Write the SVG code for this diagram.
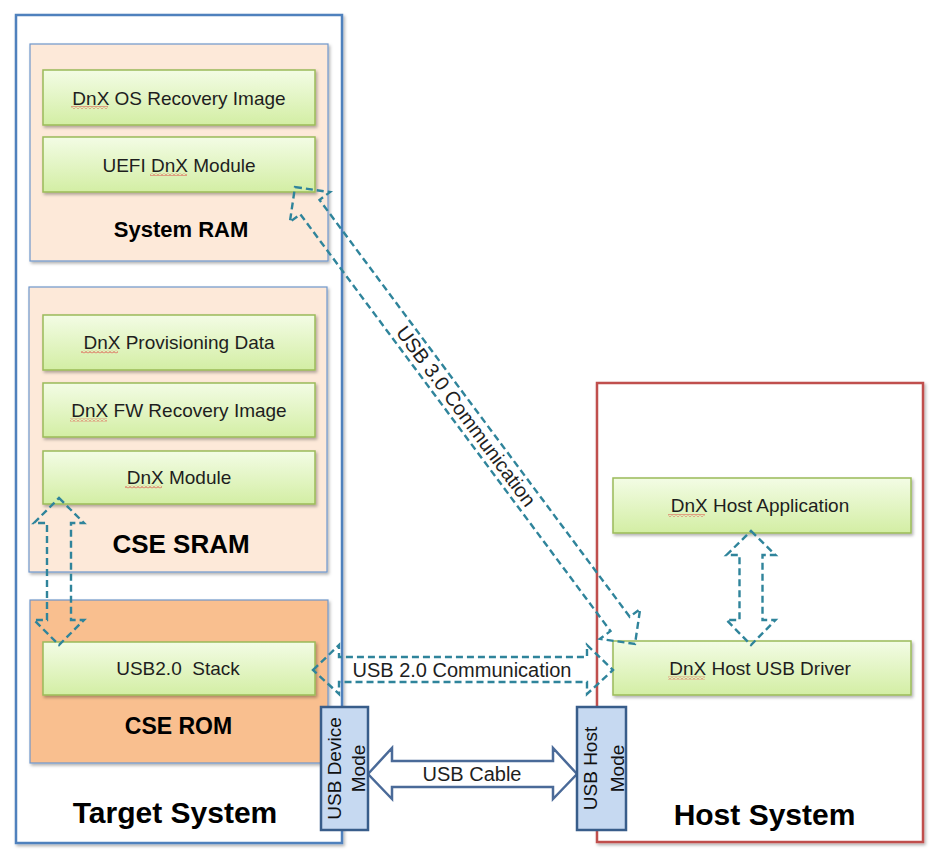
<svg xmlns="http://www.w3.org/2000/svg" width="932" height="858" viewBox="0 0 932 858">
<defs>
<linearGradient id="green" x1="0" y1="0" x2="0" y2="1">
<stop offset="0" stop-color="#F3FCE5"/>
<stop offset="1" stop-color="#D3EEA4"/>
</linearGradient>
<filter id="shadow" x="-5%" y="-5%" width="115%" height="115%">
<feDropShadow dx="1.5" dy="2" stdDeviation="1.5" flood-color="#000" flood-opacity="0.3"/>
</filter>
<pattern id="squig" width="4" height="3" patternUnits="userSpaceOnUse">
<path d="M0,2.5 L2,0.5 L4,2.5" stroke="#E03A3A" stroke-width="0.9" fill="none"/>
</pattern>
<style>
text{font-family:"Liberation Sans",Arial,sans-serif;}
.outer{fill:#FFFFFF;stroke-width:2.5;filter:url(#shadow);}
.tgt{stroke:#4F81BD;}
.hst{stroke:#C0504D;}
.mem{fill:#FDE9D9;stroke:#6F97CB;stroke-width:1.2;filter:url(#shadow);}
.rom{fill:#F9BF8F;stroke:#6F97CB;stroke-width:1.2;filter:url(#shadow);}
.grn{fill:url(#green);stroke:#9BBB59;stroke-width:1.5;filter:url(#shadow);}
.gt{font-size:19px;fill:#1E1E1E;text-anchor:middle;}
.big{font-weight:bold;fill:#000;text-anchor:middle;}
.mode{fill:#C6D9F1;stroke:#385D8A;stroke-width:2.5;}
.mt{font-size:19px;fill:#111;text-anchor:middle;}
.dash{fill:none;stroke:#2F849B;stroke-width:2.4;stroke-dasharray:7 4;stroke-linejoin:miter;}
.cable{fill:#FFFFFF;stroke:#4A6A98;stroke-width:2.5;stroke-linejoin:miter;}
.ct{font-size:20px;fill:#1E1E1E;text-anchor:middle;}
.sq{fill:url(#squig);}
</style>
</defs>
<rect x="0" y="0" width="932" height="858" fill="#FFFFFF"/>

<g id="target-system">
<rect class="outer tgt" x="16" y="15" width="326" height="828"/>
<text class="big" x="175" y="823" font-size="30">Target System</text>
</g>

<g id="system-ram">
<rect class="mem" x="30" y="44" width="298" height="217"/>
<text class="big" x="181" y="237" font-size="22">System RAM</text>
</g>
<g id="dnx-os-recovery-image">
<rect class="grn" x="43" y="70" width="272" height="55"/>
<text class="gt" x="179" y="104.5">DnX OS Recovery Image</text>
<rect class="sq" x="71" y="106" width="37" height="3"/>
</g>
<g id="uefi-dnx-module">
<rect class="grn" x="43" y="137" width="272" height="55"/>
<text class="gt" x="179" y="171.5">UEFI DnX Module</text>
<rect class="sq" x="150" y="173" width="37" height="3"/>
</g>

<g id="cse-sram">
<rect class="mem" x="29" y="287" width="298" height="285"/>
<text class="big" x="181" y="553" font-size="26">CSE SRAM</text>
</g>
<g id="dnx-provisioning-data">
<rect class="grn" x="43" y="315" width="272" height="55"/>
<text class="gt" x="179" y="349">DnX Provisioning Data</text>
<rect class="sq" x="81" y="350.5" width="37" height="3"/>
</g>
<g id="dnx-fw-recovery-image">
<rect class="grn" x="43" y="383" width="272" height="54"/>
<text class="gt" x="179" y="417">DnX FW Recovery Image</text>
<rect class="sq" x="70" y="418.5" width="37" height="3"/>
</g>
<g id="dnx-module">
<rect class="grn" x="43" y="451" width="272" height="53"/>
<text class="gt" x="179" y="484">DnX Module</text>
<rect class="sq" x="125" y="485.5" width="37" height="3"/>
</g>

<g id="cse-rom">
<rect class="rom" x="30" y="600" width="298" height="163"/>
<text class="big" x="178.5" y="734" font-size="23">CSE ROM</text>
</g>
<g id="usb20-stack">
<rect class="grn" x="43" y="642" width="272" height="53"/>
<text class="gt" x="178" y="675" xml:space="preserve">USB2.0  Stack</text>
</g>

<g id="host-system">
<rect class="outer hst" x="597" y="383" width="326" height="459"/>
<text class="big" x="764.5" y="825" font-size="30">Host System</text>
</g>
<g id="dnx-host-application">
<rect class="grn" x="613" y="478" width="298" height="55"/>
<text class="gt" x="760" y="512">DnX Host Application</text>
<rect class="sq" x="668" y="514" width="37" height="3"/>
</g>
<g id="dnx-host-usb-driver">
<rect class="grn" x="613" y="641" width="298" height="54"/>
<text class="gt" x="760" y="675">DnX Host USB Driver</text>
<rect class="sq" x="668" y="676.5" width="37" height="3"/>
</g>

<g id="connectors">
<path class="dash" d="M59,498 L84,523 L71,523 L71,620 L84,620 L59,645 L34,620 L47,620 L47,523 L34,523 Z"/>
<path class="dash" d="M751,531 L775.5,555 L762.5,555 L762.5,620 L775.5,620 L751,645 L726.5,620 L739.5,620 L739.5,555 L726.5,555 Z"/>
<path class="dash" d="M313,670 L339,645 L339,657 L587,657 L587,645 L613,670 L587,694 L587,682 L339,682 L339,694 Z"/>
<text class="ct" x="462" y="677">USB 2.0 Communication</text>
<g transform="translate(295,187) rotate(53.35)">
<path class="dash" d="M0,0 L25,-25 L25,-12 L544.6,-12 L544.6,-25 L569.6,0 L544.6,25 L544.6,12 L25,12 L25,25 Z"/>
<text class="ct" x="286" y="6.5" font-size="19">USB 3.0 Communication</text>
</g>
<path class="cable" d="M368,774 L392,748 L392,761 L553,761 L553,748 L577,774 L553,799 L553,787 L392,787 L392,799 Z"/>
<text class="ct" x="472" y="781" font-size="19">USB Cable</text>
</g>

<g id="usb-device-mode">
<rect class="mode" x="321" y="707" width="47" height="123"/>
<text class="mt" transform="translate(344.5,768.5) rotate(-90)"><tspan x="0" y="-4">USB Device</tspan><tspan x="0" y="20.5">Mode</tspan></text>
</g>
<g id="usb-host-mode">
<rect class="mode" x="577" y="707" width="49" height="123"/>
<text class="mt" transform="translate(601.5,768.5) rotate(-90)"><tspan x="0" y="-5">USB Host</tspan><tspan x="0" y="22">Mode</tspan></text>
</g>
</svg>
